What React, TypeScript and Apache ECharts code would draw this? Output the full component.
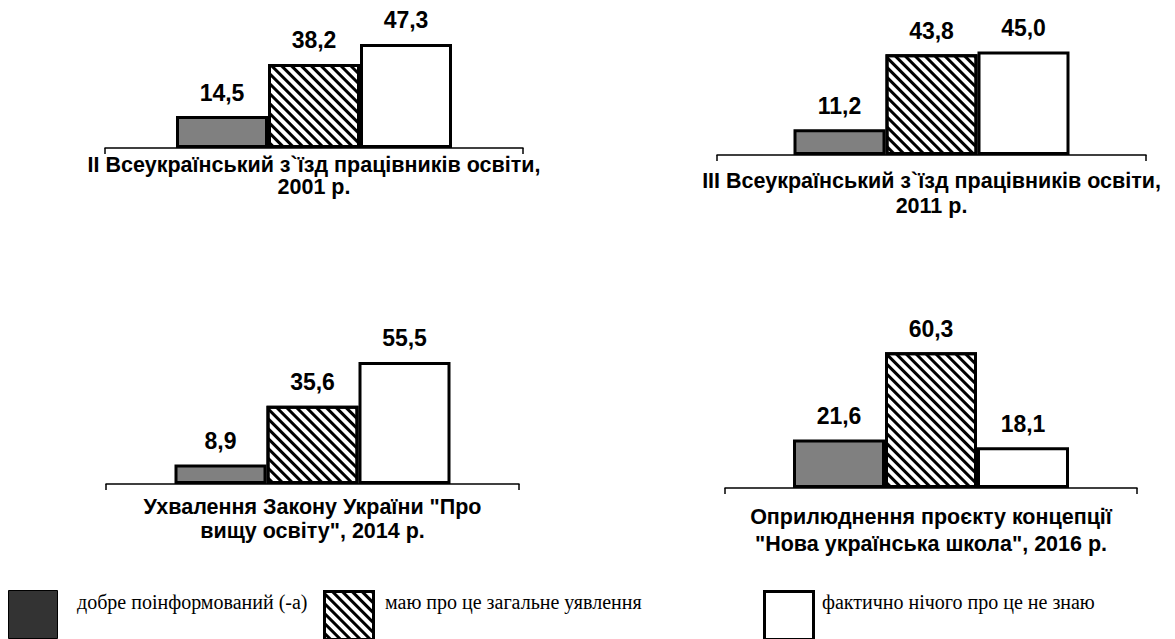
import React, { useEffect, useRef } from "react";
import * as echarts from "echarts";

const categories = [
  "II Всеукраїнський з`їзд працівників освіти,\n2001 р.",
  "III Всеукраїнський з`їзд працівників освіти,\n2011 р.",
  "Ухвалення Закону України \"Про\nвищу освіту\", 2014 р.",
  "Оприлюднення проєкту концепції\n\"Нова українська школа\", 2016 р.",
];
const seriesNames = [
  "добре поінформований (-а)",
  "маю про це загальне уявлення",
  "фактично нічого про це не знаю",
];
const wellInformed = [14.5, 11.2, 8.9, 21.6];
const generalIdea = [38.2, 43.8, 35.6, 60.3];
const knowNothing = [47.3, 45.0, 55.5, 18.1];

const yMax = 65;

// layout of the four panels: left, width, axis y, px per unit, label margin, line height
const panels = [
  { left: 105, width: 418, axisY: 148, scale: 2.2, margin: 6, lh: 22 },
  { left: 717, width: 429, axisY: 155, scale: 2.3, margin: 13, lh: 25 },
  { left: 106, width: 413, axisY: 484, scale: 2.2, margin: 11, lh: 24 },
  { left: 725, width: 412, axisY: 488, scale: 2.25, margin: 15, lh: 27 },
];

const hatch = {
  symbol: "rect",
  symbolSize: 1,
  color: "#000",
  backgroundColor: "#fff",
  dashArrayX: [1, 0],
  dashArrayY: [3, 3.6],
  rotation: Math.PI / 4,
};

const fmt = (p: any) => Number(p.value).toFixed(1).replace(".", ",");

export default function App() {
  const ref = useRef<HTMLDivElement>(null);
  useEffect(() => {
    if (!ref.current) return;
    const chart = echarts.init(ref.current, null, { renderer: "svg" });
    const valueSets = [wellInformed, generalIdea, knowNothing];
    const styles = [
      { color: "#808080", borderColor: "#000", borderWidth: 3 },
      { color: "#fff", borderColor: "#000", borderWidth: 3, decal: hatch },
      { color: "#fff", borderColor: "#000", borderWidth: 3 },
    ];
    const grid = panels.map((p) => {
      const h = yMax * p.scale;
      return { left: p.left, width: p.width, top: p.axisY - h, height: h };
    });
    const xAxis = panels.map((p, i) => ({
      type: "category",
      gridIndex: i,
      data: [categories[i]],
      axisLine: { show: true, lineStyle: { color: "#000", width: 1.5 } },
      axisTick: { show: true, length: 6, lineStyle: { color: "#000", width: 1.5 } },
      axisLabel: {
        margin: p.margin,
        fontFamily: "Liberation Sans, Arial, sans-serif",
        fontWeight: "bold",
        fontSize: 21.5,
        lineHeight: p.lh,
        color: "#000",
        align: "center",
      },
    }));
    const yAxis = panels.map((p, i) => ({
      type: "value",
      gridIndex: i,
      min: 0,
      max: yMax,
      show: false,
      splitLine: { show: false },
    }));
    const series: any[] = [];
    panels.forEach((p, i) => {
      valueSets.forEach((vals, s) => {
        series.push({
          type: "bar",
          name: seriesNames[s],
          xAxisIndex: i,
          yAxisIndex: i,
          data: [vals[i]],
          barWidth: 92,
          barGap: "0%",
          itemStyle: styles[s],
          label: {
            show: true,
            position: "top",
            distance: 12,
            formatter: fmt,
            fontFamily: "Liberation Sans, Arial, sans-serif",
            fontWeight: "bold",
            fontSize: 23,
            color: "#000",
          },
        });
      });
    });
    const legendLefts = [8, 323, 763];
    const legendTextLefts = [77, 385, 822];
    const legendColors = ["#333333", "#fff", "#fff"];
    const legend = seriesNames.map((n, k) => ({
      left: legendLefts[k],
      top: 590,
      padding: 0,
      orient: "horizontal",
      selectedMode: false,
      itemWidth: 49,
      itemHeight: 48,
      icon: "rect",
      formatter: () => "",
      data: [
        {
          name: n,
          itemStyle: {
            color: legendColors[k],
            borderColor: "#000",
            borderWidth: k === 0 ? 1 : 3,
          },
        },
      ],
    }));
    const graphic = seriesNames.map((n, k) => ({
      type: "text",
      left: legendTextLefts[k],
      top: 592,
      style: {
        text: n,
        font: "20px 'Liberation Serif', 'Times New Roman', serif",
        fill: "#000",
      },
    }));
    chart.setOption({
      animation: false,
      backgroundColor: "#fff",
      grid,
      xAxis,
      yAxis,
      series,
      legend,
      graphic,
    });
    return () => chart.dispose();
  }, []);
  return (
    <div
      ref={ref}
      style={{ position: "fixed", left: 0, top: 0, width: 1175, height: 639 }}
    />
  );
}
